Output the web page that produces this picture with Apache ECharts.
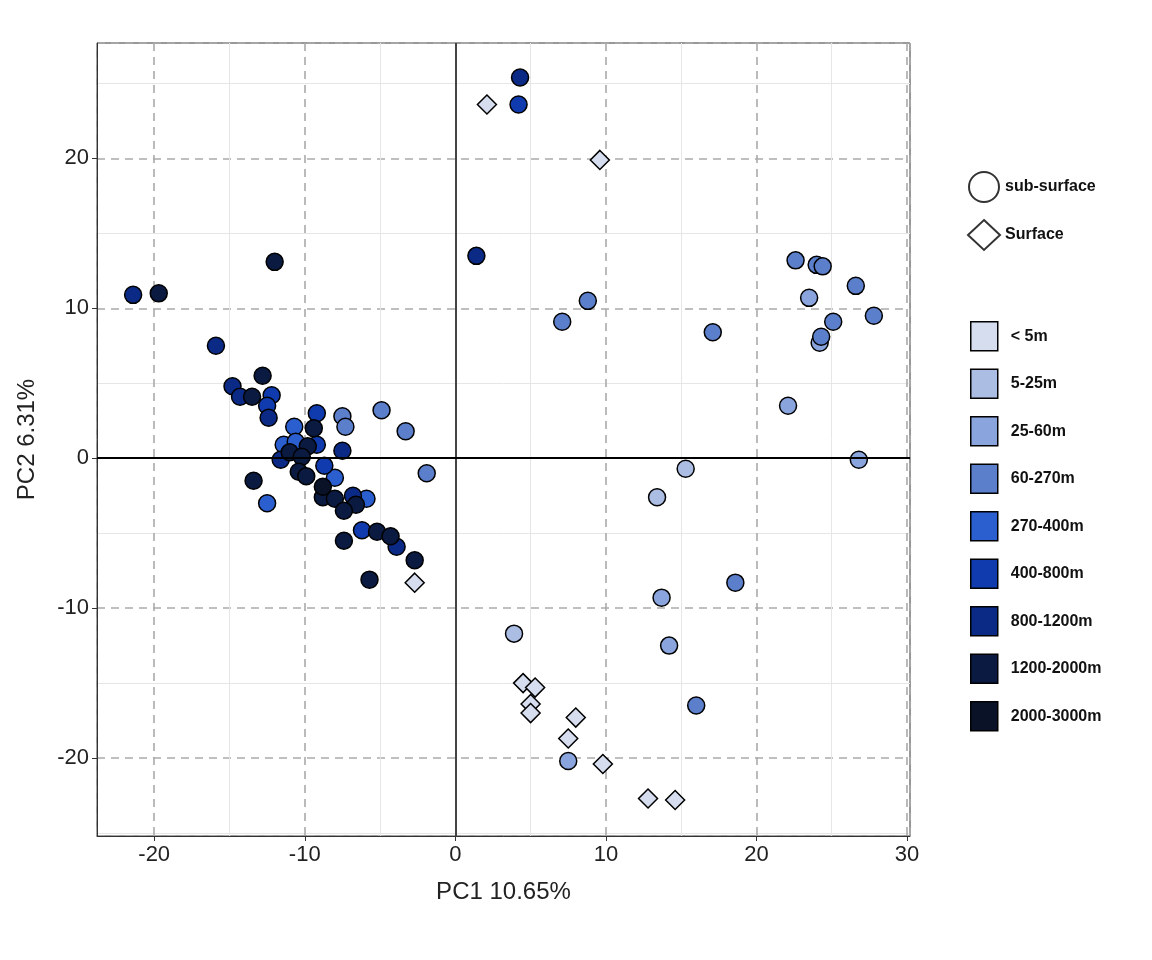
<!DOCTYPE html>
<html>
<head>
<meta charset="utf-8">
<script src="https://cdn.jsdelivr.net/npm/echarts@6/dist/echarts.min.js"></script>
<style>html,body{margin:0;background:#fff}#c{width:1152px;height:960px}</style>
</head>
<body>
<div id="c"></div>
<script>
const depthClasses = ['< 5m', '5-25m', '25-60m', '60-270m', '270-400m', '400-800m', '800-1200m', '1200-2000m', '2000-3000m'];
const depthColors = ['#D6DDEE', '#ABBDE3', '#8AA4DD', '#5B7FCB', '#2B5FD0', '#0F3BAF', '#0B2A85', '#0A1A40', '#0A1228'];
const sampleTypes = ['sub-surface', 'Surface'];

// each sample: [PC1, PC2, depth class index, sample type index]
const samples = [
  [-21.4, 10.9, 6, 0], [-19.7, 11.0, 7, 0], [-12.0, 13.1, 7, 0], [-15.9, 7.5, 6, 0],
  [-12.8, 5.5, 7, 0], [-14.8, 4.8, 6, 0], [-14.3, 4.1, 6, 0], [-13.5, 4.1, 7, 0],
  [-12.2, 4.2, 5, 0], [-12.5, 3.5, 5, 0], [-12.4, 2.7, 6, 0], [-10.7, 2.1, 4, 0],
  [-9.2, 3.0, 5, 0], [-9.4, 2.0, 7, 0], [-7.5, 2.8, 3, 0], [-7.3, 2.1, 3, 0],
  [-4.9, 3.2, 3, 0], [-3.3, 1.8, 3, 0], [-1.9, -1.0, 3, 0], [-11.4, 0.9, 4, 0],
  [-10.6, 1.1, 4, 0], [-9.8, 0.8, 7, 0], [-9.2, 0.9, 5, 0], [-11.0, 0.4, 7, 0],
  [-11.6, -0.1, 6, 0], [-10.2, 0.1, 7, 0], [-7.5, 0.5, 6, 0], [-8.7, -0.5, 5, 0],
  [-10.4, -0.9, 7, 0], [-9.9, -1.2, 7, 0], [-13.4, -1.5, 7, 0], [-8.0, -1.3, 4, 0],
  [-8.8, -1.9, 8, 0], [-8.8, -2.6, 7, 0], [-8.0, -2.7, 7, 0], [-6.8, -2.5, 6, 0],
  [-5.9, -2.7, 4, 0], [-6.6, -3.1, 7, 0], [-7.4, -3.5, 7, 0], [-12.5, -3.0, 4, 0],
  [-6.2, -4.8, 5, 0], [-5.2, -4.9, 7, 0], [-4.3, -5.2, 7, 0], [-3.9, -5.9, 6, 0],
  [-2.7, -6.8, 7, 0], [-7.4, -5.5, 7, 0], [-5.7, -8.1, 7, 0], [-2.7, -8.3, 0, 1],
  [4.3, 25.4, 6, 0], [4.2, 23.6, 5, 0], [2.1, 23.6, 0, 1], [9.6, 19.9, 0, 1],
  [1.4, 13.5, 6, 0], [8.8, 10.5, 3, 0], [7.1, 9.1, 3, 0], [17.1, 8.4, 3, 0],
  [22.6, 13.2, 3, 0], [24.0, 12.9, 3, 0], [24.4, 12.8, 3, 0], [23.5, 10.7, 2, 0],
  [26.6, 11.5, 3, 0], [27.8, 9.5, 3, 0], [25.1, 9.1, 3, 0], [24.2, 7.7, 2, 0],
  [24.3, 8.1, 3, 0], [22.1, 3.5, 2, 0], [26.8, -0.1, 2, 0], [15.3, -0.7, 1, 0],
  [13.4, -2.6, 1, 0], [18.6, -8.3, 3, 0], [13.7, -9.3, 2, 0], [14.2, -12.5, 2, 0],
  [16.0, -16.5, 3, 0], [3.9, -11.7, 1, 0], [7.5, -20.2, 2, 0],
  [4.5, -15.0, 0, 1], [5.3, -15.3, 0, 1], [5.0, -16.4, 0, 1], [5.0, -17.0, 0, 1],
  [8.0, -17.3, 0, 1], [7.5, -18.7, 0, 1], [9.8, -20.4, 0, 1], [12.8, -22.7, 0, 1],
  [14.6, -22.8, 0, 1]
];

const shapeOf = t => (t === 1 ? 'diamond' : 'circle');
const sizeOf = t => (t === 1 ? 19 : 17);

const chart = echarts.init(document.getElementById('c'));

const depthSeries = depthClasses.map((name, i) => ({
  name,
  type: 'scatter',
  data: samples.filter(s => s[2] === i).map(s => ({
    value: [s[0], s[1]],
    symbol: shapeOf(s[3]),
    symbolSize: sizeOf(s[3])
  })),
  itemStyle: { color: depthColors[i], borderColor: '#000', borderWidth: 1.5, opacity: 1 },
  z: 3
}));

const typeSeries = sampleTypes.map((name, t) => ({
  name,
  type: 'scatter',
  symbol: shapeOf(t),
  data: [],
  itemStyle: { color: '#fff', borderColor: '#000', borderWidth: 1.2 }
}));

const axisCommon = {
  minorTick: { show: false, splitNumber: 2 },
  minorSplitLine: { show: true, lineStyle: { color: '#e6e6e6', width: 1 } },
  splitLine: { show: true, lineStyle: { color: '#aaa', type: [8, 6], width: 1.6 } },
  axisTick: { show: true, length: 5, lineStyle: { color: '#333' } },
  axisLabel: { fontSize: 22, color: '#222', fontFamily: 'Liberation Sans', showMinLabel: false, showMaxLabel: false },
  nameTextStyle: { fontSize: 24, color: '#222', fontFamily: 'Liberation Sans' },
  nameLocation: 'middle'
};

chart.setOption({
  animation: false,
  grid: { left: 97, right: 242, top: 43, bottom: 124, show: true, borderColor: '#333', borderWidth: 1 },
  xAxis: Object.assign({}, axisCommon, {
    type: 'value', min: -23.8, max: 30.2, splitNumber: 5,
    name: 'PC1 10.65%', nameGap: 44,
    axisLine: { onZero: false, lineStyle: { color: '#333' } },
    minorTick: { show: false, splitNumber: 2 }
  }),
  yAxis: Object.assign({}, axisCommon, {
    type: 'value', min: -25.2, max: 27.7, splitNumber: 5,
    name: 'PC2 6.31%', nameGap: 58,
    axisLine: { onZero: false, lineStyle: { color: '#333' } }
  }),
  legend: [
    {
      data: sampleTypes, orient: 'vertical', left: 962, top: 166, itemGap: 16,
      itemWidth: 32, itemHeight: 30, selectedMode: false,
      textStyle: { fontSize: 16, fontWeight: 'bold', color: '#111', fontFamily: 'Liberation Sans' }
    },
    {
      data: depthClasses.map(n => ({ name: n, icon: 'rect' })), orient: 'vertical', left: 965, top: 316, itemGap: 17,
      itemWidth: 27, itemHeight: 29, selectedMode: false,
      itemStyle: { borderColor: '#000', borderWidth: 1.5 },
      textStyle: { fontSize: 16, fontWeight: 'bold', color: '#111', fontFamily: 'Liberation Sans', padding: [0, 0, 0, 8] }
    }
  ],
  series: [
    ...depthSeries,
    ...typeSeries,
    {
      type: 'line', data: [], silent: true,
      markLine: {
        silent: true, symbol: 'none', label: { show: false },
        data: [
          { xAxis: 0, lineStyle: { color: '#444', width: 2, type: 'solid' } },
          { yAxis: 0, lineStyle: { color: '#000', width: 2, type: 'solid' } }
        ]
      },
      z: 2
    }
  ]
});
</script>
</body>
</html>
